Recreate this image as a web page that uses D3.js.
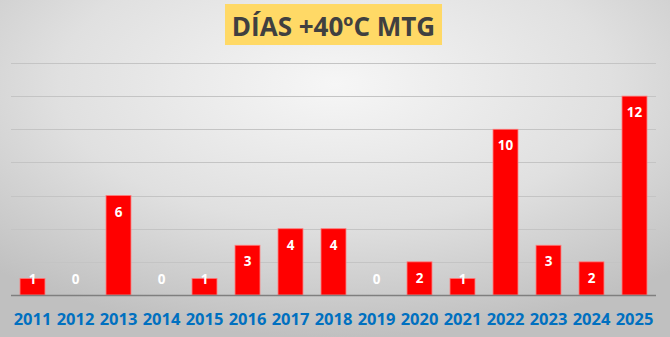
<!DOCTYPE html>
<html><head><meta charset="utf-8">
<script src="https://cdn.jsdelivr.net/npm/d3@7"></script>
<style>html,body{margin:0;padding:0;overflow:hidden;}</style>
</head><body>
<svg id="chart" width="670" height="337"></svg>
<script>
const years = ["2011","2012","2013","2014","2015","2016","2017","2018","2019","2020","2021","2022","2023","2024","2025"];
const days = [1,0,6,0,1,3,4,4,0,2,1,10,3,2,12];
const yTicks = [0,2,4,6,8,10,12,14];
const title = "DÍAS +40ºC MTG";

const W = 670, H = 337;
const svg = d3.select("#chart");
const defs = svg.append("defs");
const g = defs.append("radialGradient").attr("id","bg")
  .attr("cx","50%").attr("cy","25%").attr("r","75%")
  .attr("gradientUnits","objectBoundingBox");
g.append("stop").attr("offset","0%").attr("stop-color","#f6f6f6");
g.append("stop").attr("offset","55%").attr("stop-color","#e0e0e0");
g.append("stop").attr("offset","100%").attr("stop-color","#c0c0c0");
svg.append("rect").attr("width",W).attr("height",H).attr("fill","url(#bg)");

const x = d3.scaleBand().domain(years).range([11,656]).paddingInner(0.42).paddingOuter(0.21);
const y = d3.scaleLinear().domain([0,14]).range([295,63]);

// gridlines
svg.append("g").selectAll("line").data(yTicks.filter(d=>d>0)).join("line")
  .attr("x1",11).attr("x2",656)
  .attr("y1",d=>Math.round(y(d))+0.5).attr("y2",d=>Math.round(y(d))+0.5)
  .attr("stroke","#c4c4c4").attr("stroke-width",1);

// bars
svg.append("g").selectAll("rect").data(years).join("rect")
  .attr("x",d=>x(d)).attr("width",x.bandwidth())
  .attr("y",(d,i)=>y(days[i])).attr("height",(d,i)=>y(0)-y(days[i]))
  .attr("fill","#ff0000").attr("stroke","#ff7a7a").attr("stroke-width",0.8);

// baseline
svg.append("line").attr("x1",11).attr("x2",656).attr("y1",295.5).attr("y2",295.5)
  .attr("stroke","#7f7f7f").attr("stroke-width",1.5);

// data labels
svg.append("g").selectAll("text").data(years).join("text")
  .attr("x",d=>x(d)+x.bandwidth()/2)
  .attr("y",(d,i)=>Math.min(y(days[i])+16, y(0)-16))
  .attr("text-anchor","middle").attr("dominant-baseline","central")
  .attr("font-family","Open Sans, Liberation Sans, sans-serif").attr("font-weight","bold")
  .attr("font-size",13.5).attr("fill","#ffffff")
  .text((d,i)=>days[i]);

// x axis labels
const xAxis = d3.axisBottom(x).tickSize(0).tickPadding(0);
const ax = svg.append("g").call(xAxis);
ax.select(".domain").remove();
ax.selectAll("text")
  .attr("y",319).attr("dy","0.36em")
  .attr("font-family","Open Sans, Liberation Sans, sans-serif").attr("font-weight","bold")
  .attr("font-size",16.5).attr("fill","#0070c0");

// title
svg.append("rect").attr("x",225).attr("y",4).attr("width",217).attr("height",41).attr("fill","#ffd966");
svg.append("text").attr("x",333.5).attr("y",26).attr("text-anchor","middle").attr("dominant-baseline","central")
  .attr("font-family","Open Sans, Liberation Sans, sans-serif").attr("font-weight","bold")
  .attr("font-size",26).attr("fill","#404040").text(title);
</script>
</body></html>
